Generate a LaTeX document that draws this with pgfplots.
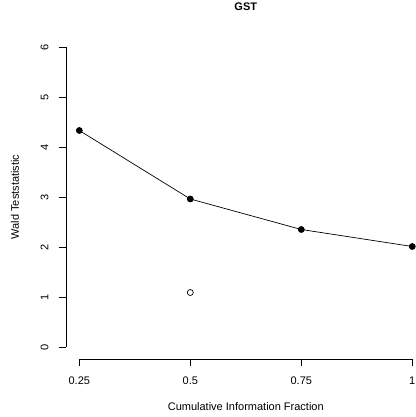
\documentclass[border=0pt]{standalone}
\usepackage{pgfplots}
\pgfplotsset{compat=1.18}
\usepackage{fontspec}
\setmainfont{Liberation Sans}
\begin{document}
\begin{tikzpicture}
\useasboundingbox (-66pt,-58pt) rectangle (349pt,359pt);
\begin{axis}[
  at={(0,0)}, anchor=south west,
  scale only axis,
  width=348.5pt, height=324pt,
  xmin=0.22, xmax=1.005,
  ymin=-0.24, ymax=6.24,
  axis x line*=bottom, axis y line*=left,
  axis line style={draw=none},
  xtick={0.25,0.5,0.75,1},
  xticklabels={0.25,0.5,0.75,1},
  ytick={0,1,2,3,4,5,6},
  tick align=outside,
  major tick length=7pt,
  tick style={black, line width=0.6pt},
  /pgf/number format/assume math mode=true,
  tick label style={font=\fontsize{11}{13}\selectfont},
  yticklabel style={rotate=90, anchor=south, yshift=7pt},
  xticklabel style={anchor=north, yshift=-7pt},
  title={\textbf{GST}},
  title style={at={(axis cs:0.625,6.24)}, anchor=center, yshift=22pt, font=\fontsize{11}{13}\selectfont},
  xlabel={Cumulative Information Fraction},
  xlabel style={at={(axis cs:0.625,-0.24)}, anchor=center, yshift=-48pt, font=\fontsize{11}{13}\selectfont},
  ylabel={Wald Teststatistic},
  ylabel style={at={(axis cs:0.22,3)}, anchor=center, yshift=51pt, font=\fontsize{11}{13}\selectfont},
  clip=false,
]
\draw[black, line width=0.6pt] (axis cs:0.25,-0.24) -- (axis cs:1,-0.24);
\draw[black, line width=0.6pt] (axis cs:0.22,0) -- (axis cs:0.22,6);
\addplot[black, line width=0.7pt, mark=*, mark size=3pt, mark options={fill=black}] coordinates {
  (0.25,4.33) (0.5,2.96) (0.75,2.35) (1,2.01)
};
\addplot[only marks, black, mark=o, mark size=3pt, line width=0.7pt] coordinates {
  (0.5,1.09)
};
\end{axis}
\end{tikzpicture}
\end{document}
